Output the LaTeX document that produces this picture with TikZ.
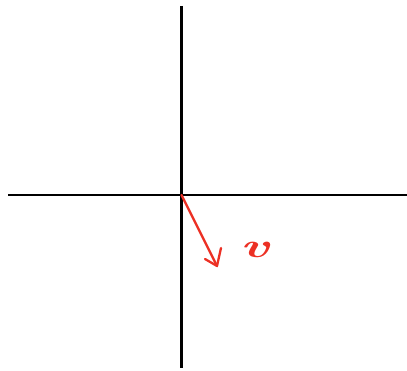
\documentclass[tikz,border=0pt]{standalone}
\usetikzlibrary{arrows.meta}
\definecolor{penred}{RGB}{236,48,36}
\begin{document}
\begin{tikzpicture}[x=1pt,y=-1pt,
  axis/.style={line width=2.4pt,black},
  vec/.style={line width=2.3pt,penred,line cap=round,line join=round},
  vlabel/.style={penred,inner sep=0pt,xscale=1.6,font=\fontsize{34}{34}\selectfont\bfseries\itshape}]
\useasboundingbox (0,0) rectangle (407,371);
\coordinate (L) at (8,195);
\coordinate (R) at (407,195);
\coordinate (T) at (181.5,6);
\coordinate (B) at (181.5,368);
\coordinate (O) at (181.5,195);
\coordinate (tip) at (217,266);
\coordinate (b1) at (205,259);
\coordinate (b2) at (221,248);
\draw[axis] (L) -- (R);
\draw[axis] (T) -- (B);
\draw[vec] (O) -- (tip);
\draw[vec] (b1) -- (tip) -- (b2);
\node[vlabel] (v) at (255,250) {v};
\end{tikzpicture}
\end{document}
